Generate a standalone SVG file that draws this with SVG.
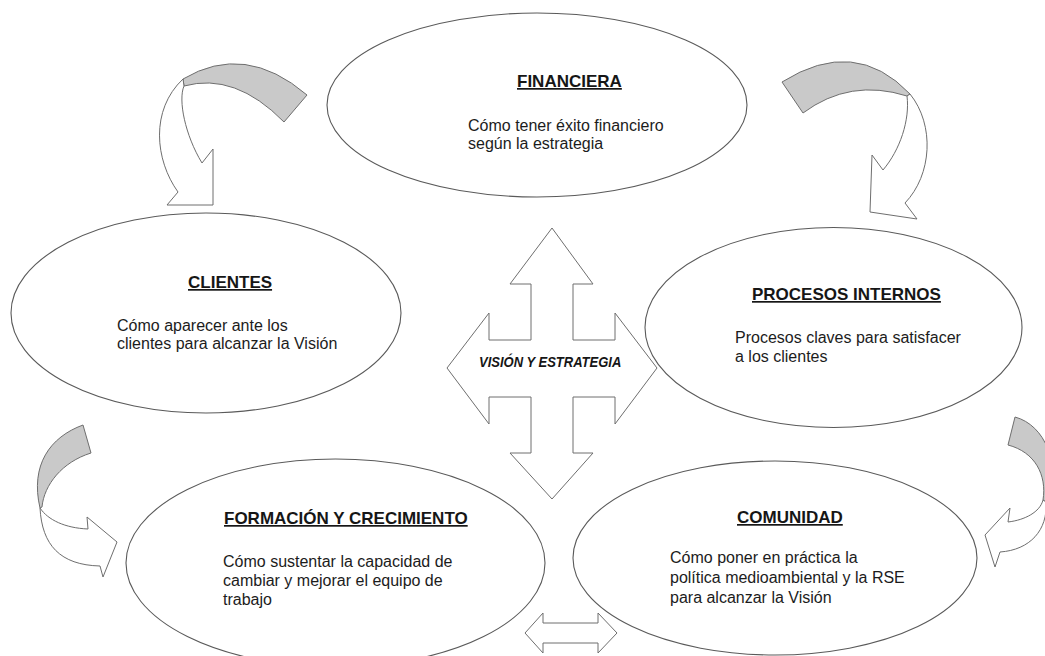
<svg xmlns="http://www.w3.org/2000/svg" width="1045" height="656" viewBox="0 0 1045 656">
  <style>
    .node ellipse { fill: #ffffff; stroke: #5a5a5a; stroke-width: 1.1; }
    .title { font-family: "Liberation Sans", Arial, sans-serif; font-size: 17px; font-weight: bold; fill: #161616; text-decoration: underline; }
    .body { font-family: "Liberation Sans", Arial, sans-serif; font-size: 16px; fill: #1c1c1c; }
    .band { fill: #c9c9c9; stroke: #6e6e6e; stroke-width: 1; stroke-linejoin: round; }
    .arrow { fill: #ffffff; stroke: #6e6e6e; stroke-width: 1; stroke-linejoin: round; }
    .center { font-family: "Liberation Sans", Arial, sans-serif; font-size: 15.5px; font-weight: bold; font-style: italic; fill: #161616; }
  </style>
  <rect x="0" y="0" width="1045" height="656" fill="#ffffff"/>

  <g id="financiera" class="node">
    <ellipse cx="537" cy="105" rx="210" ry="92"/>
    <text class="title" x="517" y="87">FINANCIERA</text>
    <text class="body" x="468" y="131">Cómo tener éxito financiero</text>
    <text class="body" x="468" y="149">según la estrategia</text>
  </g>

  <g id="clientes" class="node">
    <ellipse cx="206" cy="313" rx="195" ry="100"/>
    <text class="title" x="188" y="288">CLIENTES</text>
    <text class="body" x="117" y="331">Cómo aparecer ante los</text>
    <text class="body" x="117" y="349">clientes para alcanzar la Visión</text>
  </g>

  <g id="procesos-internos" class="node">
    <ellipse cx="833.5" cy="327.5" rx="188.5" ry="100"/>
    <text class="title" x="752" y="300">PROCESOS INTERNOS</text>
    <text class="body" x="735" y="343">Procesos claves para satisfacer</text>
    <text class="body" x="735" y="362">a los clientes</text>
  </g>

  <g id="formacion" class="node">
    <ellipse cx="335.5" cy="563" rx="209.5" ry="104"/>
    <text class="title" x="224" y="524">FORMACIÓN Y CRECIMIENTO</text>
    <text class="body" x="223" y="567">Cómo sustentar la capacidad de</text>
    <text class="body" x="223" y="586">cambiar y mejorar el equipo de</text>
    <text class="body" x="223" y="605">trabajo</text>
  </g>

  <g id="comunidad" class="node">
    <ellipse cx="775" cy="558" rx="202" ry="97"/>
    <text class="title" x="737" y="523">COMUNIDAD</text>
    <text class="body" x="670" y="563">Cómo poner en práctica la</text>
    <text class="body" x="670" y="583">política medioambiental y la RSE</text>
    <text class="body" x="670" y="603">para alcanzar la Visión</text>
  </g>

  <g id="connectors">
    <!-- central four-way arrow -->
    <g id="vision-estrategia">
      <polygon class="arrow" points="552,228 593,284 573,284 573,340 615,340 615,313 657,368 615,424 615,397 573,397 573,453 593,453 552,499 510,453 531,453 531,397 489,397 489,424 447,368 489,313 489,340 531,340 531,284 510,284"/>
      <text class="center" transform="translate(479,367) scale(0.84,1)" x="0" y="0">VISIÓN Y ESTRATEGIA</text>
    </g>

    <!-- bottom small double arrow -->
    <polygon class="arrow" points="525,633 543,613 543,623 598,623 598,613 617,633 598,653 598,643 543,643 543,653"/>

    <!-- curved arrow: Financiera -> Clientes -->
    <g id="arrow-fin-cli">
      <path class="band" d="M307,95 Q245,42 183,79 L184,86 Q235,72 284,122 Z"/>
      <path class="arrow" d="M183,79 C150,110 155,160 178,192 L167,205 L213,205 L213,149 L202,163 C185,135 178,100 184,86 Z"/>
    </g>

    <!-- curved arrow: Financiera -> Procesos internos -->
    <g id="arrow-fin-pro">
      <path class="band" d="M782,82 Q855,36 910,94 L907,96 Q850,78 803,113 Z"/>
      <path class="arrow" d="M910,94 C935,125 932,175 905,203 L917,219 L870,212 L872,155 L883,170 C900,150 910,120 907,96 Z"/>
    </g>

    <!-- curved arrow: -> Formación y crecimiento -->
    <g id="arrow-left-form">
      <path class="band" d="M83,425 C50,437 30,465 40,508 L42,507 C44,485 62,462 91,453 Z"/>
      <path class="arrow" d="M40,508 C42,545 60,565 100,566 L103,577 L117,542 L87,517 L88,529 C65,528 48,520 40,508 Z"/>
    </g>

    <!-- curved arrow: -> Comunidad -->
    <g id="arrow-right-com">
      <path class="band" d="M1015,417 C1045,425 1062,465 1046,502 L1043,500 C1047,475 1035,452 1008,445 Z"/>
      <path class="arrow" d="M1046,502 C1048,530 1030,550 1000,552 L995,567 L985,535 L1010,508 L1008,522 C1025,520 1040,512 1043,500 Z"/>
    </g>
  </g>
</svg>
